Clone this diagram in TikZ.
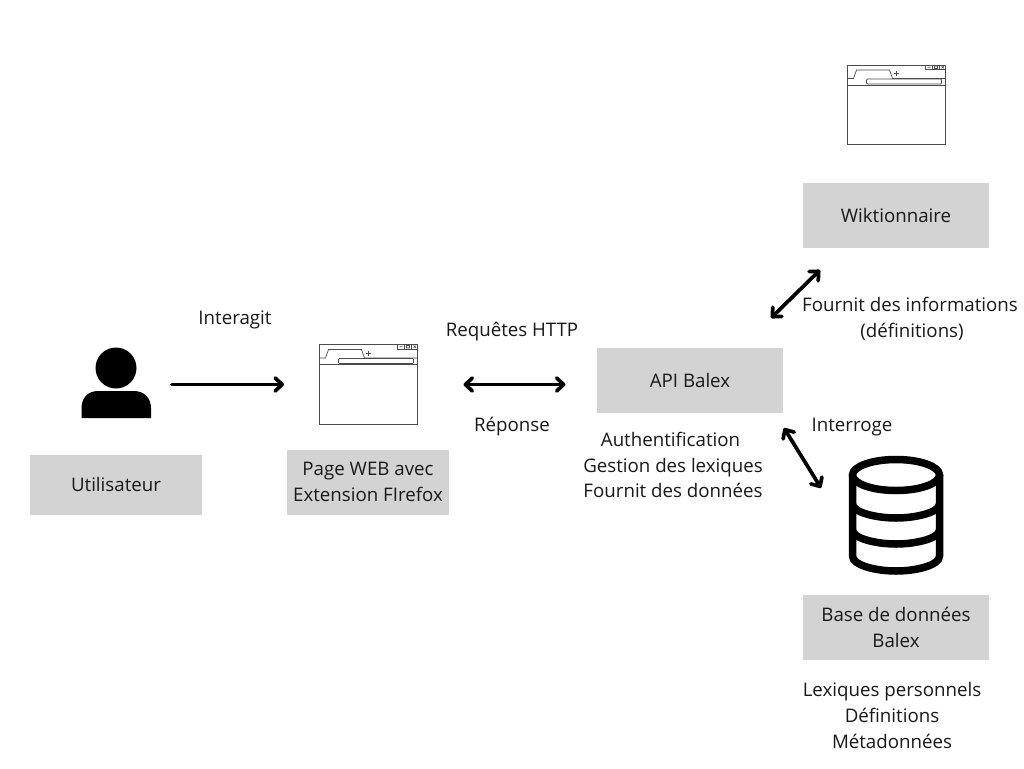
\documentclass[tikz,border=0pt]{standalone}
\usepackage{fontspec}
\setmainfont{Open Sans}
\usetikzlibrary{arrows.meta}
\definecolor{boxgrey}{HTML}{D3D3D3}
\tikzset{
  x=1pt,y=-1pt,
  boxnode/.style={fill=boxgrey,inner sep=0pt,align=center,font=\fontsize{18.7}{25.7}\selectfont,text=black!90},
  lab/.style={inner sep=0pt,align=center,font=\fontsize{18.7}{25.7}\selectfont,text=black!90},
  conn/.style={line width=3.7pt,line cap=round,black},
  oneway/.style={conn,-{Straight Barb[length=7pt,width=13pt,line width=3.7pt,round]}},
  twoway/.style={conn,{Straight Barb[length=7pt,width=13pt,line width=3.7pt,round]}-{Straight Barb[length=7pt,width=13pt,line width=3.7pt,round]}},
  thinl/.style={line width=0.7pt,black!70},
}
\newcommand{\browsericon}[2]{%
\begin{scope}[shift={(#1,#2)}]
  \draw[thinl] (0,0) rectangle (98,79.5);
  \draw[thinl] (0,20) -- (98,20);
  \draw[thinl] (0,13.5) -- (6,13.5) -- (9,5) -- (42,5) -- (45,13.5) -- (98,13.5);
  \draw[thinl,rounded corners=1pt] (19,14) rectangle (94,19);
  \draw[line width=0.6pt,black!70] (46,8.5) -- (51,8.5) (48.5,6) -- (48.5,11);
  \draw[line width=0.6pt,black!70] (78,0) rectangle (98,4.5) (85,0) -- (85,4.5) (92,0) -- (92,4.5);
  \draw[line width=0.6pt,black!70] (80,2.2) -- (83,2.2) (87,1) rectangle (90,3.5) (94,1) -- (96.5,3.5) (94,3.5) -- (96.5,1);
\end{scope}}
\begin{document}
\begin{tikzpicture}
\useasboundingbox (0,0) rectangle (1024,768);
\fill[white] (0,0) rectangle (1024,768);
% boxes
\node[boxnode,minimum width=172pt,minimum height=60pt] (user) at (116,485) {\raisebox{2pt}{Utilisateur}};
\node[boxnode,minimum width=162pt,minimum height=65pt] (page) at (368,482) {Page WEB avec\\Extension FIrefox};
\node[boxnode,minimum width=186pt,minimum height=65pt] (api) at (690,380.5) {API Balex};
\node[boxnode,minimum width=186pt,minimum height=65pt] (wik) at (896,215.5) {Wiktionnaire};
\node[boxnode,minimum width=186pt,minimum height=65pt] (bdd) at (896,627.5) {Base de données\\Balex};
% labels
\node[lab] (t1) at (235,320) {Interagit};
\node[lab] (t2) at (512,331.5) {Requêtes HTTP};
\node[lab] (t3) at (512,427) {Réponse};
\node[lab] (t4) at (910,319) {Fournit des informations\\\hspace*{4pt}(définitions)};
\node[lab] (t5) at (852,427) {Interroge};
\node[lab] (t6) at (673,465) {\hspace*{-5pt}Authentification\\Gestion des lexiques\\Fournit des données};
\node[lab] (t7) at (892,715.5) {Lexiques personnels\\Définitions\\Métadonnées};
% icons
\browsericon{319.5}{344.5}
\browsericon{847.5}{65}
% person
\fill[black] (116,368) circle (20.5);
\fill[black] (81.5,418) -- (81.5,408) .. controls (81.5,398) and (88,391) .. (98,391) -- (134,391) .. controls (144,391) and (151,398) .. (151,408) -- (151,418) -- cycle;
% database
\begin{scope}[line width=7.5pt,black]
  \draw (896,475) ellipse (43.5 and 15.5);
  \draw (852.5,475) -- (852.5,556) .. controls (852.5,565) and (875,571) .. (896,571) .. controls (917,571) and (939.5,565) .. (939.5,556) -- (939.5,475);
  \draw (852.5,504) .. controls (852.5,512) and (875,518) .. (896,518) .. controls (917,518) and (939.5,512) .. (939.5,504);
  \draw (852.5,530) .. controls (852.5,538) and (875,544) .. (896,544) .. controls (917,544) and (939.5,538) .. (939.5,530);
\end{scope}
% connectors
\coordinate (a1) at (172,384.5);
\coordinate (a2) at (284,384.5);
\coordinate (b1) at (463.5,384.5);
\coordinate (b2) at (565.5,384.5);
\coordinate (c1) at (771,318);
\coordinate (c2) at (820,270);
\coordinate (d1) at (784,428);
\coordinate (d2) at (821,488);
\draw[oneway] (a1) -- (a2);
\draw[twoway] (b1) -- (b2);
\draw[twoway] (c1) -- (c2);
\draw[twoway] (d1) -- (d2);
\end{tikzpicture}
\end{document}
